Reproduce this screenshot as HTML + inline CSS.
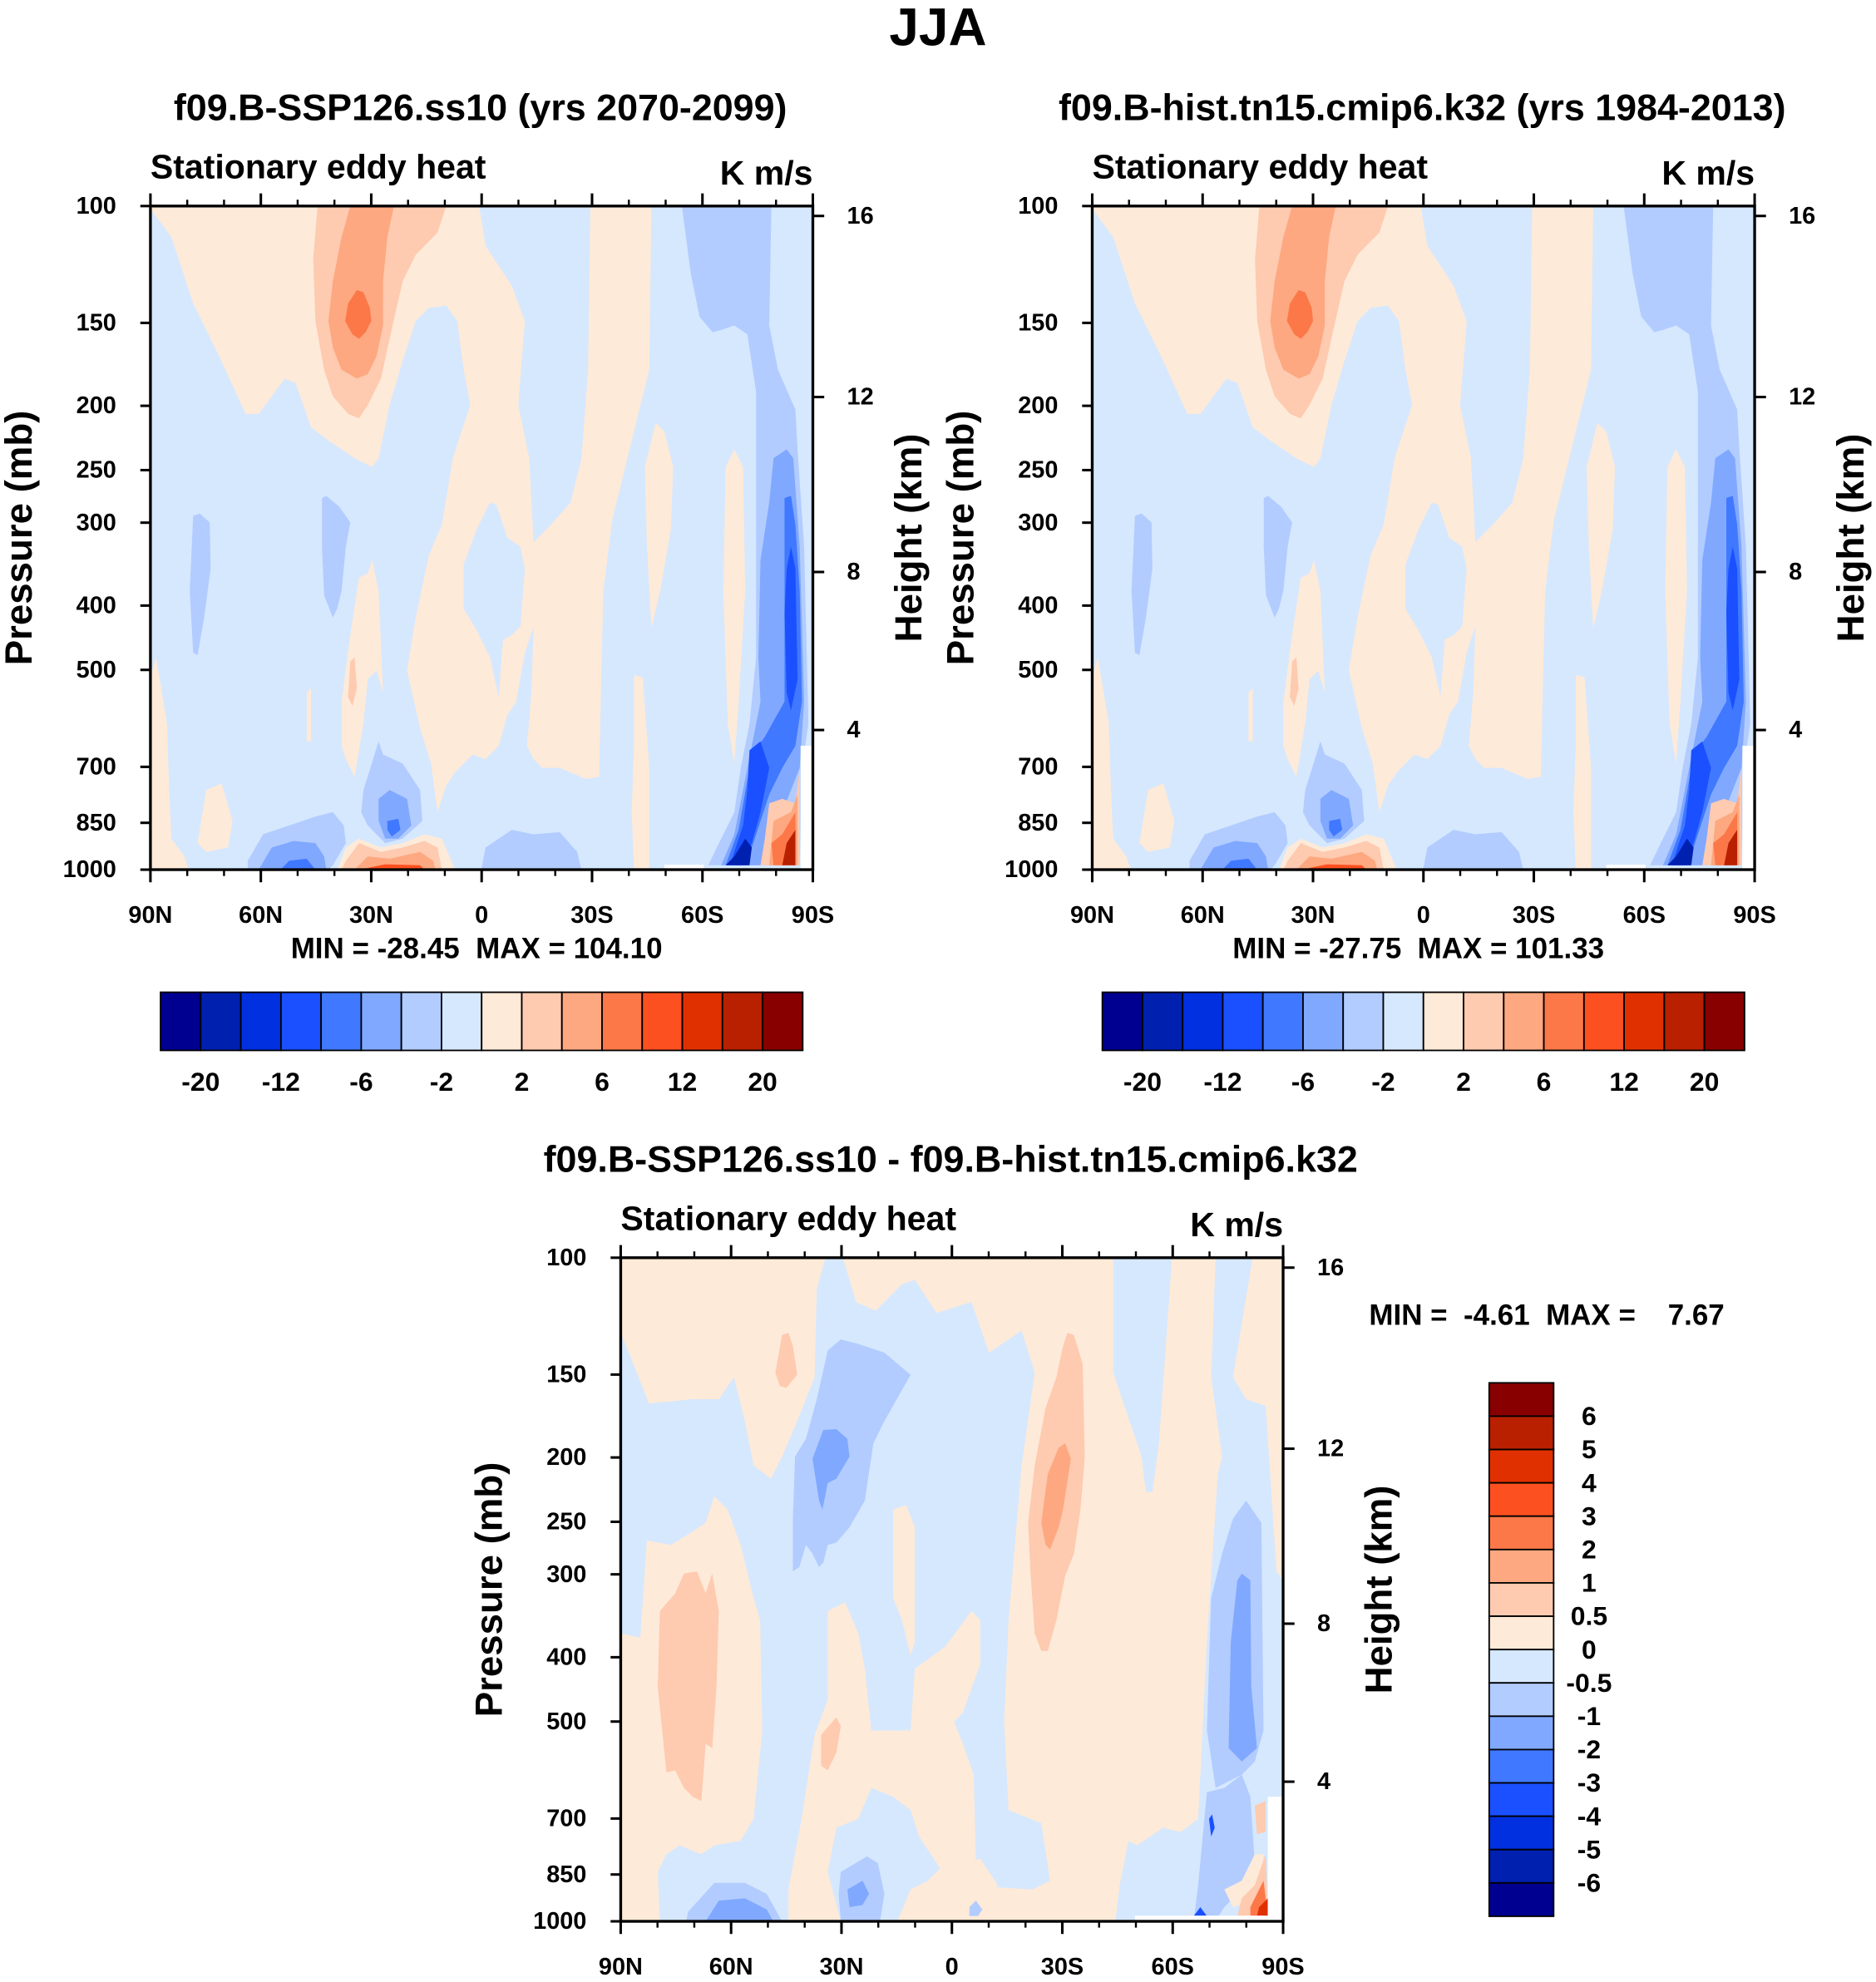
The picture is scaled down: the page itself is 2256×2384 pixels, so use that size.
<!DOCTYPE html>
<html><head><meta charset="utf-8"><style>
html,body{margin:0;padding:0;background:#fff}
svg{display:block}
text{font-family:"Liberation Sans",Arial,sans-serif;font-weight:bold;fill:#000;white-space:pre}
</style></head><body>
<svg id="fig" xmlns="http://www.w3.org/2000/svg" width="2256" height="2384" viewBox="0 0 1484 1568" preserveAspectRatio="none" xml:space="preserve">
<text x="742" y="36" font-size="42" text-anchor="middle">JJA</text>
</svg>
<script>
// ---- data ----
const latTicks = [90, 60, 30, 0, -30, -60, -90];
const latTickLabels = ["90N", "60N", "30N", "0", "30S", "60S", "90S"];
const latMinor = [80, 70, 50, 40, 20, 10, -10, -20, -40, -50, -70, -80];
const presTicks = [100, 150, 200, 250, 300, 400, 500, 700, 850, 1000];
const heightTickP = [103.5, 194, 356, 616];
const heightTickLabels = ["16", "12", "8", "4"];
const colors = ["#000090","#0020b0","#0030e0","#1a50ff","#4078ff","#80a8ff","#b2ccff","#d6e8fe","#feead8","#fecab0","#fda880","#fc7848","#fc5020","#e03000","#b82000","#880000"];
const levelsAbs = [-20,-16,-12,-8,-6,-4,-2,0,2,4,6,8,12,16,20];
const levelsAbsLabels = ["-20","","-12","","-6","","-2","","2","","6","","12","","20"];
const levelsDiff = [-6,-5,-4,-3,-2,-1,-0.5,0,0.5,1,2,3,4,5,6];
const statsP1 = [-28.45, 104.10];
const statsP2 = [-27.75, 101.33];
const statsP3 = [-4.61, 7.67];

// contour shapes: [level index, points in grid units of the analysis grid]
const shapesAbs = [
 [8,[[25,30],[775,30],[790,120],[850,210],[880,290],[865,480],[890,600],[900,790],[940,750],[985,700],[1010,600],[1025,400],[1030,30],[1170,30],[1165,400],[1140,500],[1110,620],[1080,740],[1060,900],[1055,1100],[1050,1320],[1020,1325],[960,1300],[920,1300],[900,1280],[885,1250],[895,1130],[900,980],[880,1040],[860,1150],[840,1180],[820,1250],[790,1280],[760,1270],[720,1310],[700,1340],[680,1400],[665,1290],[640,1210],[610,1080],[630,960],[660,820],[690,750],[715,600],[755,480],[740,400],[725,290],[700,255],[660,260],[630,290],[600,380],[570,480],[545,600],[530,620],[490,600],[430,560],[390,530],[355,430],[330,420],[270,500],[240,500],[180,370],[120,250],[70,100],[25,40]]],
 [7,[[800,700],[815,705],[840,780],[870,800],[880,850],[870,980],[850,1000],[830,1010],[820,1140],[800,1050],[770,990],[740,940],[740,840],[770,760]]],
 [8,[[1155,620],[1180,520],[1200,540],[1220,620],[1215,760],[1190,900],[1170,985],[1160,800]]],
 [8,[[1340,620],[1360,580],[1380,620],[1385,900],[1370,1150],[1360,1290],[1345,1200],[1335,900]]],
 [8,[[1130,1090],[1150,1095],[1165,1300],[1165,1530],[1130,1530],[1125,1400],[1130,1250]]],
 [8,[[20,1100],[35,1050],[60,1200],[65,1350],[70,1460],[100,1500],[110,1530],[20,1530]]],
 [8,[[150,1350],[185,1335],[210,1420],[200,1480],[150,1490],[130,1470]]],
 [8,[[460,1150],[480,1000],[500,870],[520,860],[530,830],[545,900],[555,1130],[540,1080],[520,1100],[510,1200],[490,1320],[470,1280],[460,1250]]],
 [8,[[380,1130],[390,1120],[390,1240],[380,1240]]],
 [8,[[450,1530],[470,1480],[500,1460],[550,1480],[600,1470],[650,1450],[690,1460],[720,1530]]],
 [9,[[405,30],[700,30],[680,90],[630,140],[600,200],[570,330],[550,420],[520,480],[500,510],[475,500],[440,460],[420,400],[400,290],[395,150]]],
 [10,[[480,30],[580,30],[565,100],[555,200],[555,300],[540,370],[520,410],[495,420],[460,400],[440,350],[430,290],[440,200],[460,100]]],
 [11,[[495,220],[510,225],[525,260],[528,290],[515,315],[500,330],[485,320],[468,290],[475,250]]],
 [9,[[480,1060],[490,1050],[495,1120],[485,1160],[475,1140]]],
 [9,[[470,1510],[500,1470],[550,1490],[600,1480],[650,1465],[680,1480],[690,1530],[460,1530]]],
 [10,[[490,1530],[520,1500],[570,1505],[640,1490],[670,1510],[675,1530]]],
 [12,[[500,1530],[560,1518],[640,1520],[650,1530]]],
 [6,[[1240,30],[1445,30],[1440,300],[1460,400],[1500,490],[1505,580],[1520,800],[1530,1200],[1515,1300],[1510,1520],[1300,1520],[1330,1460],[1360,1400],[1375,1300],[1395,1200],[1410,1050],[1410,600],[1410,450],[1390,320],[1360,300],[1330,310],[1310,315],[1280,280],[1260,180]]],
 [5,[[1450,600],[1480,580],[1495,600],[1510,800],[1520,1150],[1510,1300],[1470,1400],[1440,1440],[1420,1520],[1330,1520],[1360,1450],[1390,1300],[1420,1150],[1415,1050],[1420,830],[1440,700]]],
 [4,[[1475,690],[1490,685],[1500,750],[1510,900],[1515,1150],[1500,1250],[1470,1300],[1440,1360],[1420,1420],[1400,1480],[1390,1520],[1340,1520],[1370,1440],[1400,1270],[1430,1230],[1475,1150],[1475,900]]],
 [3,[[1490,800],[1500,850],[1505,1100],[1490,1170],[1480,1130],[1475,950],[1480,850]]],
 [3,[[1395,1260],[1420,1240],[1440,1300],[1420,1400],[1400,1470],[1380,1520],[1350,1520],[1380,1430],[1390,1350]]],
 [1,[[1360,1500],[1385,1460],[1400,1480],[1395,1520],[1340,1520]]],
 [9,[[1440,1380],[1470,1370],[1500,1380],[1510,1300],[1510,1520],[1420,1520],[1430,1460]]],
 [10,[[1450,1420],[1490,1400],[1505,1360],[1505,1520],[1440,1520]]],
 [11,[[1445,1470],[1470,1450],[1500,1400],[1500,1520],[1450,1520]]],
 [14,[[1480,1470],[1500,1440],[1500,1520],[1470,1520]]],
 [6,[[120,730],[135,725],[158,745],[160,850],[145,960],[130,1045],[120,1040],[112,900]]],
 [6,[[415,690],[425,685],[455,710],[480,745],[470,800],[460,900],[450,940],[440,960],[420,910],[415,800]]],
 [6,[[510,1350],[545,1240],[555,1270],[600,1290],[640,1350],[645,1420],[600,1460],[560,1470],[520,1430],[505,1400]]],
 [5,[[545,1370],[570,1350],[610,1370],[620,1430],[590,1460],[560,1460],[545,1420]]],
 [4,[[565,1420],[590,1415],[595,1440],[575,1455],[565,1440]]],
 [6,[[245,1510],[280,1450],[340,1430],[400,1410],[440,1400],[465,1430],[470,1470],[440,1520],[430,1530],[245,1530]]],
 [5,[[270,1530],[300,1480],[350,1465],[400,1470],[420,1500],[425,1530]]],
 [4,[[320,1530],[340,1510],[380,1505],[400,1530]]],
 [6,[[790,1480],[850,1440],[900,1450],[960,1445],[1000,1490],[1010,1530],[780,1530]]],
 [-1,[[1200,1519],[1290,1519],[1290,1540],[1200,1540]]],
 [-1,[[1512,1250],[1545,1250],[1545,1540],[1512,1540]]]
];
const shapesDiff = [
 [7,[[15,200],[40,260],[80,360],[180,350],[240,350],[275,300],[300,400],[320,500],[360,530],[385,480],[420,400],[460,300],[465,100],[485,30],[525,30],[555,130],[600,150],[660,90],[690,80],[740,155],[820,130],[860,245],[935,195],[965,290],[935,500],[905,850],[895,1080],[905,1280],[980,1310],[1000,1440],[960,1460],[880,1455],[820,1532],[15,1532]]],
 [8,[[15,880],[60,890],[75,670],[130,680],[180,650],[210,630],[230,570],[260,600],[290,680],[320,800],[335,850],[340,1100],[320,1300],[290,1350],[230,1360],[200,1380],[150,1360],[120,1380],[100,1420],[105,1532],[15,1532]]],
 [8,[[400,1532],[400,1460],[430,1300],[460,1110],[490,1030],[490,830],[530,810],[560,880],[575,960],[590,1100],[630,1100],[680,1100],[690,960],[760,910],[820,830],[840,850],[840,950],[800,1060],[780,1080],[800,1130],[825,1200],[830,1390],[780,1460],[740,1400],[700,1340],[680,1280],[640,1250],[590,1230],[560,1300],[510,1320],[490,1420],[520,1532]]],
 [8,[[640,600],[670,590],[690,640],[690,900],[680,930],[660,850],[640,800]]],
 [8,[[650,1532],[680,1460],[720,1440],[760,1400],[800,1400],[840,1390],[880,1450],[860,1500],[830,1532]]],
 [7,[[1145,30],[1280,30],[1250,450],[1235,560],[1220,560],[1210,480],[1145,290]]],
 [7,[[1380,30],[1465,30],[1420,300],[1450,350],[1495,365],[1520,740],[1535,760],[1535,1532],[1150,1532],[1160,1450],[1180,1350],[1200,1360],[1260,1320],[1300,1330],[1340,1300],[1360,900],[1385,520],[1395,480],[1370,300]]],
 [6,[[1420,620],[1450,580],[1485,630],[1490,1100],[1470,1170],[1440,1200],[1380,1230],[1360,1100],[1370,800],[1395,700]]],
 [5,[[1430,760],[1440,745],[1460,760],[1462,1000],[1475,1140],[1440,1170],[1410,1140],[1415,900]]],
 [6,[[1330,1530],[1340,1450],[1360,1240],[1400,1230],[1440,1200],[1460,1250],[1470,1400],[1440,1460],[1400,1500],[1380,1530]]],
 [8,[[1400,1460],[1440,1440],[1470,1380],[1490,1380],[1480,1480],[1420,1500]]],
 [3,[[1330,1520],[1345,1500],[1360,1520]]],
 [3,[[1365,1300],[1372,1290],[1378,1320],[1370,1340]]],
 [9,[[1470,1270],[1495,1260],[1495,1330],[1475,1335]]],
 [9,[[1440,1480],[1470,1450],[1495,1380],[1500,1520],[1430,1520]]],
 [11,[[1460,1500],[1490,1440],[1500,1520],[1460,1520]]],
 [13,[[1480,1500],[1500,1480],[1500,1520],[1475,1520]]],
 [6,[[490,240],[520,215],[560,225],[620,245],[680,295],[620,400],[595,450],[575,580],[540,640],[510,675],[490,680],[480,720],[470,730],[455,700],[440,680],[425,730],[410,740],[410,620],[415,480],[440,440],[465,350]]],
 [5,[[480,420],[510,418],[535,440],[540,480],[510,530],[490,540],[478,600],[470,580],[455,485]]],
 [9,[[1040,200],[1055,205],[1075,270],[1080,480],[1070,600],[1055,700],[1035,750],[1015,850],[995,920],[980,920],[965,880],[955,740],[950,630],[965,500],[990,370],[1015,300],[1030,230]]],
 [10,[[1020,460],[1035,450],[1048,485],[1030,600],[1020,640],[1000,690],[990,680],[980,630],[995,520]]],
 [9,[[105,830],[140,790],[160,745],[190,740],[210,790],[225,745],[240,830],[235,1000],[225,1140],[210,1130],[200,1260],[180,1250],[160,1230],[140,1190],[120,1195],[100,1000]]],
 [9,[[370,290],[385,205],[400,200],[410,230],[420,295],[395,325],[380,320]]],
 [9,[[475,1110],[510,1070],[520,1090],[510,1150],[490,1190],[475,1180]]],
 [6,[[520,1420],[580,1385],[605,1400],[620,1470],[610,1532],[520,1532],[515,1470]]],
 [5,[[535,1460],[570,1440],[585,1470],[570,1495],[540,1500]]],
 [6,[[170,1510],[230,1445],[300,1445],[350,1470],[385,1532],[165,1532]]],
 [5,[[210,1532],[240,1485],[300,1480],[350,1505],[365,1532]]],
 [6,[[815,1500],[830,1485],[845,1505],[835,1520],[815,1520]]],
 [-1,[[1195,1519],[1535,1519],[1535,1540],[1195,1540]]],
 [-1,[[1500,1250],[1540,1250],[1540,1540],[1500,1540]]]
];

const NS = "http://www.w3.org/2000/svg";
const svg = document.getElementById("fig");
function mk(tag, attrs, parent) {
  const e = document.createElementNS(NS, tag);
  for (const k in attrs) e.setAttribute(k, attrs[k]);
  (parent || svg).appendChild(e);
  return e;
}
function txt(s, x, y, size, anchor, parent, rot) {
  const t = mk("text", {x: x, y: y, "font-size": size, "text-anchor": anchor || "middle"}, parent);
  if (rot) t.setAttribute("transform", "rotate(" + rot + " " + x + " " + y + ")");
  t.textContent = s;
  return t;
}

function panel(cfg) {
  const g = mk("g", {});
  
  
  const X0 = cfg.x, Y0 = cfg.y, W = 524, H = 525;
  const xScale = lat => X0 + (90 - lat) / 180 * W;
  const yScale = p => Y0 + Math.log10(p / 100) * H;
  const gr = cfg.grid;
  const gLat = gx => 90 - 180 * (gx - gr[0]) / (gr[1] - gr[0]);
  const gP = gy => 100 * Math.pow(10, (gy - gr[2]) / (gr[3] - gr[2]));

  const t1 = txt(cfg.title, X0 + W / 2 - 1, Y0 - 68, 29.5, "middle", g);
  
  
  const t2 = txt("Stationary eddy heat", X0, Y0 - 22, 27, "start", g);
  
  
  const t3 = txt("K m/s", X0 + W, Y0 - 17, 27, "end", g);
  
  

  const cid = "clip" + cfg.name;
  const cp = mk("clipPath", {id: cid}, g);
  mk("rect", {x: X0, y: Y0, width: W, height: H}, cp);
  const field = mk("g", {"clip-path": "url(#" + cid + ")"}, g);
  
  
  const bg = mk("rect", {x: X0, y: Y0, width: W, height: H, fill: colors[cfg.bgLevel]}, field);
  
  
  cfg.shapes.forEach(s => {
    const pts = s[1].map(q => xScale(gLat(q[0])).toFixed(1) + "," + yScale(gP(q[1])).toFixed(1)).join(" ");
    const poly = mk("polygon", {points: pts, fill: s[0] < 0 ? "#ffffff" : colors[s[0]]}, field);
    
    
  });
  const frame = mk("rect", {x: X0, y: Y0, width: W, height: H, fill: "none", stroke: "#000", "stroke-width": 2.2}, g);
  
  

  latTicks.forEach((lat, i) => {
    const x = xScale(lat);
    mk("line", {x1: x, x2: x, y1: Y0 + H, y2: Y0 + H + 10, stroke: "#000", "stroke-width": 2}, g);
    mk("line", {x1: x, x2: x, y1: Y0, y2: Y0 - 10, stroke: "#000", "stroke-width": 2}, g);
    const l = txt(latTickLabels[i], x, Y0 + H + 42, 19, "middle", g);
    
    
  });
  latMinor.forEach(lat => {
    const x = xScale(lat);
    mk("line", {x1: x, x2: x, y1: Y0 + H, y2: Y0 + H + 5, stroke: "#000", "stroke-width": 1.6}, g);
    mk("line", {x1: x, x2: x, y1: Y0, y2: Y0 - 5, stroke: "#000", "stroke-width": 1.6}, g);
  });
  presTicks.forEach(p => {
    const y = yScale(p);
    mk("line", {x1: X0, x2: X0 - 8, y1: y, y2: y, stroke: "#000", "stroke-width": 2}, g);
    const l = txt(String(p), X0 - 27, y + 6, 19, "end", g);
    
    
  });
  heightTickP.forEach((p, i) => {
    const y = yScale(p);
    mk("line", {x1: X0 + W, x2: X0 + W + 9, y1: y, y2: y, stroke: "#000", "stroke-width": 2}, g);
    const l = txt(heightTickLabels[i], X0 + W + 27, y + 6, 19, "start", g);
    
    
  });
  const yt = txt("Pressure (mb)", X0 - 94, Y0 + H / 2, 30, "middle", g, -90);
  
  
  const ht = txt("Height (km)", X0 + W + 86, Y0 + H / 2, 30, "middle", g, -90);
  
  
  return {g: g, X0: X0, Y0: Y0, W: W, H: H};
}

function hbar(x0, y0, w, h, parent, stats) {
  const n = colors.length, bw = w / n;
  const st = txt("MIN = " + stats[0].toFixed(2) + "  MAX = " + stats[1].toFixed(2), x0 + w / 2 - 4, y0 - 27, 23, "middle", parent);
  
  
  colors.forEach((c, i) => {
    const r = mk("rect", {x: x0 + i * bw, y: y0, width: bw, height: h, fill: c, stroke: "#000", "stroke-width": 1.2}, parent);
    
    
  });
  levelsAbs.forEach((v, i) => {
    if (!levelsAbsLabels[i]) return;
    const l = txt(levelsAbsLabels[i], x0 + (i + 1) * bw, y0 + h + 32, 21, "middle", parent);
    
    
  });
}

const p1 = panel({name: "panel-future", x: 119, y: 163, title: "f09.B-SSP126.ss10 (yrs 2070-2099)", grid: [22, 1540, 30, 1530], shapes: shapesAbs, bgLevel: 7});
hbar(127, 785, 508, 46, p1.g, statsP1);
const p2 = panel({name: "panel-historical", x: 864, y: 163, title: "f09.B-hist.tn15.cmip6.k32 (yrs 1984-2013)", grid: [22, 1540, 30, 1530], shapes: shapesAbs, bgLevel: 7});
hbar(872, 785, 508, 46, p2.g, statsP2);
const p3 = panel({name: "panel-difference", x: 491, y: 995, title: "f09.B-SSP126.ss10 - f09.B-hist.tn15.cmip6.k32", grid: [15, 1535, 30, 1532], shapes: shapesDiff, bgLevel: 8});

(function () {
  const g = mk("g", {});
  
  
  const st = txt("MIN =  " + statsP3[0].toFixed(2) + "  MAX =    " + statsP3[1].toFixed(2), 1083, 1048, 23, "start", g);
  
  
  const x0 = 1178, y0 = 1094, w = 51, h = 422, n = colors.length, bh = h / n;
  colors.slice().reverse().forEach((c, i) => {
    const r = mk("rect", {x: x0, y: y0 + i * bh, width: w, height: bh, fill: c, stroke: "#000", "stroke-width": 1.2}, g);
    
    
  });
  levelsDiff.slice().reverse().forEach((v, i) => {
    const l = txt(String(v), 1257, y0 + (i + 1) * bh + 7, 21, "middle", g);
    
    
  });
})();
</script>
</body></html>
